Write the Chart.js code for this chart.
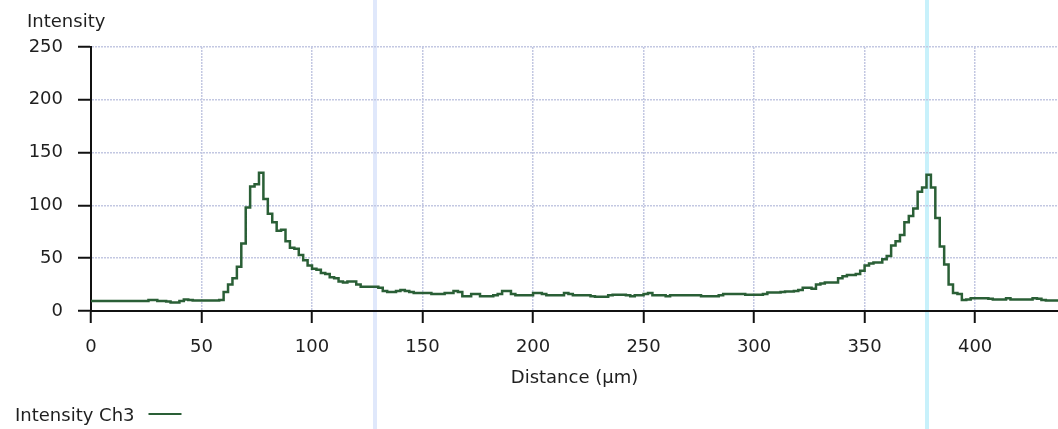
<!DOCTYPE html>
<html>
<head>
<meta charset="utf-8">
<script src="https://cdn.jsdelivr.net/npm/chart.js@4/dist/chart.umd.min.js"></script>
<style>
  html, body { margin: 0; padding: 0; background: #fff; }
</style>
</head>
<body>
<canvas id="myChart" width="1058" height="429"></canvas>
<script>
// data: intensity profile, one sample every 2 µm from 0 to 438 µm
const STEP_UM = 2;
const intensityCh3 = [
  9.5, 9.5, 9.5, 9.5, 9.5, 9.5, 9.5, 9.5, 9.5, 9.5,   // 0-18
  9.5, 9.5, 9.5, 10.5, 10.5, 9.5, 9.5, 9, 8, 8,       // 20-38
  9.5, 11, 10.5, 10, 10, 10, 10, 10, 10, 10.5,        // 40-58
  18, 25, 31, 42, 64, 98, 118, 120, 131, 106,         // 60-78
  92, 84, 76, 77, 66, 60, 59, 53, 48, 43,             // 80-98
  40, 39, 36, 35, 32, 31, 28, 27, 28, 28,             // 100-118
  25, 23, 23, 23, 23, 22, 19, 18, 18, 19,             // 120-138
  20, 19, 18, 17, 17, 17, 17, 16, 16, 16,             // 140-158
  17, 17, 19, 18, 14, 14, 16, 16, 14, 14,             // 160-178
  14, 15, 16, 19, 19, 16, 15, 15, 15, 15,             // 180-198
  17, 17, 16, 15, 15, 15, 15, 17, 16, 15,             // 200-218
  15, 15, 15, 14, 13.5, 13.5, 13.5, 15, 15.5, 15.5,   // 220-238
  15.5, 15, 14, 15, 15, 16, 17, 15, 15, 15,           // 240-258
  14, 15, 15, 15, 15, 15, 15, 15, 14, 14,             // 260-278
  14, 14, 15, 16, 16, 16, 16, 16, 15.5, 15.5,         // 280-298
  15.5, 15.5, 16, 17.5, 17.5, 17.5, 18, 18.5, 18.5, 19, // 300-318
  20, 22, 22, 21, 25, 26, 27, 27, 27, 31,             // 320-338
  33, 34, 34, 35, 38, 43, 45, 46, 46, 49,             // 340-358
  52, 62, 66, 72, 84, 90, 97, 113, 117, 129,          // 360-378
  117, 88, 61, 44, 25, 17, 16, 10.5, 11, 12,          // 380-398
  12, 12, 12, 11.5, 11, 11, 11, 12, 11, 11,           // 400-418
  11, 11, 11, 12, 11.5, 10.5, 10, 10, 10, 10          // 420-438
];
const xTicks = { min: 0, max: 437.5, step: 50 };
const yTicks = { min: 0, max: 250, step: 50 };
const cursorPositions = [128.5, 378.3];
const cursorColors = ['#e0e8fb', '#c8f1fb'];

const points = intensityCh3.map((v, i) => ({ x: i * STEP_UM, y: v }));

const FONT = 'DejaVu Sans';
const LINE_COLOR = '#2a5f36';
const TEXT_COLOR = '#1f1f1f';
const GRID_COLOR = '#c3c8e2';

// cursor lines, y title and legend drawn on the canvas
const overlay = {
  id: 'overlay',
  beforeDraw(chart) {
    const { ctx, width, height, scales: { x } } = chart;
    ctx.save();
    ctx.fillStyle = '#ffffff';
    ctx.fillRect(0, 0, width, height);
    cursorPositions.forEach((v, i) => {
      const px = Math.round(x.getPixelForValue(v));
      ctx.strokeStyle = cursorColors[i];
      ctx.lineWidth = 4;
      ctx.beginPath();
      ctx.moveTo(px, 0);
      ctx.lineTo(px, height);
      ctx.stroke();
    });
    ctx.restore();
  },
  afterDraw(chart) {
    const { ctx } = chart;
    ctx.save();
    ctx.font = '18px "' + FONT + '"';
    ctx.fillStyle = TEXT_COLOR;
    ctx.textBaseline = 'alphabetic';
    ctx.textAlign = 'left';
    ctx.fillText('Intensity', 27, 27);

    const label = chart.data.datasets[0].label;
    ctx.fillText(label, 15, 421);
    const w = ctx.measureText(label).width;
    ctx.strokeStyle = LINE_COLOR;
    ctx.lineWidth = 2;
    ctx.beginPath();
    ctx.moveTo(15 + w + 14, 414);
    ctx.lineTo(15 + w + 47, 414);
    ctx.stroke();
    ctx.restore();
  }
};

const data = {
  datasets: [{
    label: 'Intensity Ch3',
    data: points,
    borderColor: LINE_COLOR,
    borderWidth: 2.5,
    pointRadius: 0,
    stepped: true,
    fill: false
  }]
};

const options = {
  responsive: false,
  animation: false,
  layout: { padding: { top: 47, left: 0, right: 0, bottom: 0 } },
  plugins: {
    legend: { display: false },
    tooltip: { enabled: false }
  },
  scales: {
    x: {
      type: 'linear',
      min: xTicks.min,
      max: xTicks.max,
      afterFit(scale) { scale.height = 118; },
      ticks: {
        stepSize: xTicks.step,
        includeBounds: false,
        padding: 14,
        color: TEXT_COLOR,
        font: { family: FONT, size: 18 }
      },
      grid: {
        color: GRID_COLOR,
        lineWidth: 1.5,
        tickLength: 12,
        tickColor: '#111',
        tickWidth: 2
      },
      border: { color: '#111', width: 2, dash: [2, 1] },
      title: {
        display: true,
        text: 'Distance (µm)',
        color: TEXT_COLOR,
        font: { family: FONT, size: 18 },
        padding: { top: 0, bottom: 40 }
      }
    },
    y: {
      min: yTicks.min,
      max: yTicks.max,
      afterFit(scale) { scale.width = 91; },
      ticks: {
        stepSize: yTicks.step,
        padding: 15,
        color: TEXT_COLOR,
        font: { family: FONT, size: 18 }
      },
      grid: {
        color: GRID_COLOR,
        lineWidth: 1.5,
        tickLength: 13,
        tickColor: '#111',
        tickWidth: 2
      },
      border: { color: '#111', width: 2, dash: [2, 1] }
    }
  }
};

const config = {
  type: 'line',
  data,
  options,
  plugins: [overlay]
};

const myChart = new Chart(document.getElementById('myChart'), config);
</script>
</body>
</html>
